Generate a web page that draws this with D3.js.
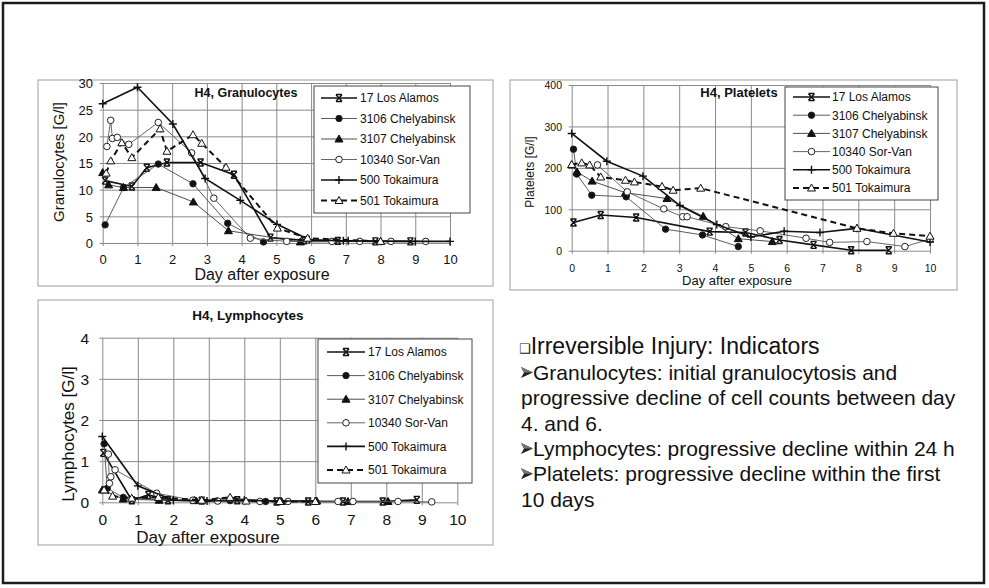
<!DOCTYPE html>
<html>
<head>
<meta charset="utf-8">
<script src="https://cdn.jsdelivr.net/npm/d3@7"></script>
<style>
  body { margin: 0; background: #fff; }
  svg { display: block; font-family: "Liberation Sans", Arial, sans-serif; }
</style>
</head>
<body>
<div id="chart"></div>
<script>
// tick values
const xTicks = d3.range(0, 11)
const granTicks = [0, 5, 10, 15, 20, 25, 30]
const pltTicks = [0, 100, 200, 300, 400]
const lymTicks = [0, 1, 2, 3, 4]

const seriesNames = ["17 Los Alamos", "3106 Chelyabinsk", "3107 Chelyabinsk", "10340 Sor-Van", "500 Tokaimura", "501 Tokaimura"]

// granulocytes [day, G/l]
const gLosAlamos = [[0.07, 11.7], [0.84, 10.6], [1.27, 14.1], [1.85, 15.1], [2.82, 15.1], [3.78, 12.8], [4.83, 1.0], [5.8, 0.5], [6.77, 0.4], [7.85, 0.3], [8.86, 0.3]]
const gChely3106 = [[0.07, 3.4], [0.6, 10.4], [1.6, 14.8], [2.6, 11.1], [3.6, 3.7], [4.63, 0.2]]
const gChely3107 = [[0, 13.2], [0.17, 10.9], [0.6, 10.4], [1.54, 10.4], [2.61, 7.7], [3.62, 2.3], [5.69, 0.2], [8.0, 0.3]]
const gSorVan = [[0.12, 18.1], [0.23, 23.0], [0.28, 19.6], [0.42, 19.8], [0.75, 18.5], [1.6, 22.6], [2.56, 16.9], [3.2, 8.4], [4.25, 0.9], [5.3, 0.3], [6.6, 0.3], [7.4, 0.3], [8.3, 0.3], [9.3, 0.3]]
const gToka500 = [[0, 26.1], [1.0, 29.2], [2.02, 22.3], [2.95, 12.1], [3.96, 8.0], [5.02, 3.5], [5.95, 0.6], [6.93, 0.4], [7.07, 0.4], [9.0, 0.3], [10.0, 0.3]]
const gToka501 = [[0.1, 13.1], [0.23, 15.4], [0.55, 18.8], [0.84, 16.0], [1.65, 21.4], [1.85, 17.2], [2.6, 20.3], [2.85, 18.7], [3.55, 14.2], [5.03, 2.8], [5.9, 0.9], [8.0, 0.3]]

// platelets [day, G/l]
const pLosAlamos = [[0.05, 68], [0.81, 86], [1.8, 80], [3.85, 46], [4.85, 44], [5.8, 26], [6.75, 14], [7.8, 1], [8.85, 1]]
const pChely3106 = [[0.05, 245], [0.14, 185], [0.56, 134], [1.52, 130], [2.62, 52], [3.65, 38], [4.65, 10]]
const pChely3107 = [[0, 207], [0.15, 190], [0.57, 168], [1.5, 140], [2.66, 126], [3.67, 83], [4.65, 29], [5.6, 22]]
const pSorVan = [[0.72, 207], [1.55, 142], [2.57, 101], [3.1, 82], [3.22, 82], [4.3, 58], [5.26, 48], [6.54, 30], [7.2, 20], [8.24, 22], [9.3, 10], [10.0, 28]]
const pToka500 = [[0, 283], [0.98, 216], [1.99, 180], [3.02, 109], [4.05, 63], [5.0, 33], [5.93, 47], [6.93, 44], [7.96, 54], [10.0, 21]]
const pToka501 = [[0, 208], [0.28, 212], [0.5, 207], [0.81, 178], [1.5, 170], [1.75, 166], [2.52, 155], [2.83, 146], [3.6, 151], [7.96, 54], [8.98, 42], [10.0, 35]]

// lymphocytes [day, G/l]
const lLosAlamos = [[0.03, 1.2], [0.83, 0.05], [1.3, 0.18], [1.85, 0.05], [2.8, 0.04], [3.8, 0.05], [4.91, 0.02], [5.8, 0.02], [6.78, 0.02], [7.9, 0.02], [8.86, 0.06]]
const lChely3106 = [[0.05, 1.42], [0.14, 0.34], [0.59, 0.12], [1.6, 0.06], [2.6, 0.05], [3.6, 0.04], [4.6, 0.02]]
const lChely3107 = [[0, 0.3], [0.59, 0.08], [1.6, 0.05], [2.6, 0.04], [3.6, 0.1], [5.05, 0.02], [6.04, 0.03], [6.92, 0.02], [8.05, 0.02]]
const lSorVan = [[0.17, 1.17], [0.2, 0.46], [0.24, 0.62], [0.36, 0.79], [1.53, 0.22], [2.55, 0.05], [3.25, 0.03], [4.44, 0.02], [5.23, 0.02], [6.64, 0.02], [7.06, 0.02], [8.33, 0.02], [9.28, 0.01]]
const lToka500 = [[0, 1.6], [1.0, 0.4], [2.0, 0.05], [2.95, 0.03], [4.0, 0.05], [5.0, 0.03], [6.0, 0.03]]
const lToka501 = [[0.05, 0.3], [0.29, 0.15], [0.83, 0.1], [1.58, 0.12], [2.8, 0.05], [3.6, 0.12], [4.05, 0.03], [5.0, 0.02], [6.0, 0.02]]

const noteLines = [
    "Granulocytes: initial granulocytosis and",
    "progressive decline of cell counts between day",
    "4. and 6.",
    "Lymphocytes: progressive decline within 24 h",
    "Platelets: progressive decline within the first",
    "10 days"
]
const noteBullets = [true, false, false, true, true, false]

// line / marker look for each series, same order as seriesNames
const seriesStyle = [
    {marker: 'star', color: '#111', width: 1.6, dash: null},
    {marker: 'dot', color: '#4a4a4a', width: 0.9, dash: null},
    {marker: 'tri', color: '#3a3a3a', width: 0.9, dash: null},
    {marker: 'ring', color: '#555', width: 0.9, dash: null},
    {marker: 'plus', color: '#111', width: 1.6, dash: null},
    {marker: 'otri', color: '#111', width: 2, dash: '6,4'}
]

const svg = d3.select('#chart').append('svg')
    .attr('width', 989)
    .attr('height', 588)

//outer frame
svg.append('rect')
    .attr('x', 3).attr('y', 3)
    .attr('width', 981).attr('height', 580)
    .attr('fill', 'none')
    .attr('stroke', '#1c1c1c')
    .attr('stroke-width', 2.5)

function drawMarker(sel, type) {
    if (type === 'dot' || type === 'ring') {
        sel.append('circle')
            .attr('r', type === 'dot' ? 3.2 : 3.3)
            .attr('fill', type === 'dot' ? '#111' : '#fff')
            .attr('stroke', '#222')
            .attr('stroke-width', 1)
        return
    }
    const paths = {
        star: 'M-3,-3.3L3,3.3M3,-3.3L-3,3.3M-3,-3.5L3,-3.5M-3,3.5L3,3.5',
        tri: 'M0,-4L4,3L-4,3Z',
        otri: 'M0,-4L4,3L-4,3Z',
        plus: 'M-4,0L4,0M0,-4L0,4'
    }
    sel.append('path')
        .attr('d', paths[type])
        .attr('fill', type === 'tri' ? '#111' : (type === 'otri' ? '#fff' : 'none'))
        .attr('stroke', '#111')
        .attr('stroke-width', type === 'star' || type === 'plus' ? 1.4 : 1)
}

function drawChart(cfg) {
    const g = svg.append('g')

    //panel box
    g.append('rect')
        .attr('x', cfg.box[0]).attr('y', cfg.box[1])
        .attr('width', cfg.box[2] - cfg.box[0]).attr('height', cfg.box[3] - cfg.box[1])
        .attr('fill', 'none')
        .attr('stroke', '#b4b4b4')
        .attr('stroke-width', 1.3)

    const x = d3.scaleLinear().domain([0, 10]).range([cfg.plot[0], cfg.plot[1]])
    const y = d3.scaleLinear().domain([0, d3.max(cfg.yTicks)]).range([cfg.plot[2], cfg.plot[3]])
    const w = x.range()[1] - x.range()[0]
    const h = y.range()[0] - y.range()[1]

    //vertical grid + x labels
    g.append('g')
        .attr('transform', `translate(0,${y(0)})`)
        .call(d3.axisBottom(x).tickValues(xTicks).tickFormat(d3.format('d')).tickSize(-h).tickSizeOuter(0))
        .call(a => a.select('.domain').remove())
        .call(a => a.selectAll('.tick line').attr('y1', 3).attr('stroke', '#8a8a8a'))
        .call(a => a.selectAll('.tick text')
            .attr('y', cfg.xTickBase - y(0)).attr('dy', null)
            .attr('font-size', cfg.tickFont).attr('fill', '#111')
            .attr('font-family', '"Liberation Sans", Arial, sans-serif'))

    //horizontal grid + y labels
    g.append('g')
        .attr('transform', `translate(${x(0)},0)`)
        .call(d3.axisLeft(y).tickValues(cfg.yTicks).tickFormat(d3.format('d')).tickSize(-w).tickSizeOuter(0))
        .call(a => a.select('.domain').remove())
        .call(a => a.selectAll('.tick line').attr('x1', -3).attr('stroke', '#8a8a8a'))
        .call(a => a.selectAll('.tick text')
            .attr('x', cfg.yTickRight - x(0)).attr('dy', '0.36em')
            .attr('font-size', cfg.tickFont).attr('fill', '#111')
            .attr('font-family', '"Liberation Sans", Arial, sans-serif'))

    //title
    g.append('text')
        .attr('x', cfg.title[1]).attr('y', cfg.title[2])
        .attr('text-anchor', 'middle')
        .style('font', `bold ${cfg.title[3]}px "Liberation Sans", Arial, sans-serif`)
        .attr('fill', '#111')
        .text(cfg.title[0])

    //axis titles
    g.append('text')
        .attr('x', cfg.xLabel[0]).attr('y', cfg.xLabel[1])
        .attr('text-anchor', 'middle')
        .attr('font-size', cfg.xLabel[2])
        .attr('fill', '#111')
        .text('Day after exposure')

    g.append('text')
        .attr('transform', `translate(${cfg.yLabel[1]},${cfg.yLabel[2]}) rotate(-90)`)
        .attr('text-anchor', 'middle')
        .attr('font-size', cfg.yLabel[3])
        .attr('fill', '#111')
        .text(cfg.yLabel[0])

    //series
    const line = d3.line().x(d => x(d[0])).y(d => y(d[1]))
    cfg.data.forEach((values, i) => {
        const st = seriesStyle[i]
        g.append('path')
            .attr('d', line(values))
            .attr('fill', 'none')
            .attr('stroke', st.color)
            .attr('stroke-width', st.width)
            .attr('stroke-dasharray', st.dash)
        g.append('g').selectAll('g')
            .data(values)
            .join('g')
            .attr('transform', d => `translate(${x(d[0])},${y(d[1])})`)
            .each(function () { drawMarker(d3.select(this), st.marker) })
    })

    //legend
    const lg = cfg.legend
    g.append('rect')
        .attr('x', lg.x).attr('y', lg.y)
        .attr('width', lg.w).attr('height', lg.h)
        .attr('fill', '#fff')
        .attr('stroke', '#444')
        .attr('stroke-width', 1)
    const items = g.append('g').selectAll('g')
        .data(seriesNames)
        .join('g')
        .attr('transform', (_, i) => `translate(0,${lg.first + i * lg.step})`)
    items.append('line')
        .attr('x1', lg.line[0]).attr('x2', lg.line[1])
        .attr('stroke', (_, i) => seriesStyle[i].color)
        .attr('stroke-width', (_, i) => seriesStyle[i].width)
        .attr('stroke-dasharray', (_, i) => seriesStyle[i].dash)
    items.append('g')
        .attr('transform', `translate(${(lg.line[0] + lg.line[1]) / 2},0)`)
        .each(function (_, i) { drawMarker(d3.select(this), seriesStyle[i].marker) })
    items.append('text')
        .attr('x', lg.text)
        .attr('dy', '0.36em')
        .attr('font-size', 12)
        .attr('fill', '#111')
        .text(d => d)
}

drawChart({
    data: [gLosAlamos, gChely3106, gChely3107, gSorVan, gToka500, gToka501],
    yTicks: granTicks,
    box: [38, 80, 493, 286],
    plot: [102.7, 450, 243, 83],
    tickFont: 13, xTickBase: 264, yTickRight: 93,
    title: ['H4, Granulocytes', 246, 97, 12.5],
    xLabel: [262, 280, 16],
    yLabel: ['Granulocytes [G/l]', 64, 162, 15],
    legend: {x: 314, y: 86, w: 156, h: 127, first: 98, step: 20.5, line: [321, 357], text: 360}
})

drawChart({
    data: [pLosAlamos, pChely3106, pChely3107, pSorVan, pToka500, pToka501],
    yTicks: pltTicks,
    box: [510, 80, 957, 290],
    plot: [571.7, 930, 250.7, 85],
    tickFont: 10.5, xTickBase: 271.7, yTickRight: 562,
    title: ['H4, Platelets', 739, 97, 13],
    xLabel: [737, 285, 13],
    yLabel: ['Platelets [G/l]', 534, 172, 12],
    legend: {x: 785, y: 87, w: 153, h: 113, first: 97, step: 18.2, line: [793, 830], text: 832}
})

drawChart({
    data: [lLosAlamos, lChely3106, lChely3107, lSorVan, lToka500, lToka501],
    yTicks: lymTicks,
    box: [38, 300, 493, 545],
    plot: [102.3, 457.3, 502.3, 337.7],
    tickFont: 15.5, xTickBase: 525, yTickRight: 89,
    title: ['H4, Lymphocytes', 248, 320, 13.5],
    xLabel: [208, 543, 17],
    yLabel: ['Lymphocytes [G/l]', 74, 434, 17],
    legend: {x: 318, y: 339, w: 154, h: 144, first: 352, step: 23.6, line: [327, 365], text: 368}
})

//indicator notes
svg.append('text')
    .attr('x', 519).attr('y', 354)
    .attr('font-size', 23)
    .attr('fill', '#111')
    .call(t => t.append('tspan').attr('font-size', 13).attr('font-family', '"DejaVu Sans"').attr('dy', -1).text('\u2751'))
    .call(t => t.append('tspan').attr('dy', 1).text('Irreversible Injury: Indicators'))

const notes = svg.append('g').selectAll('g')
    .data(noteLines)
    .join('g')
    .attr('transform', (_, i) => `translate(521,${380 + i * 25.3})`)

//arrowhead bullets
notes.filter((_, i) => noteBullets[i])
    .call(s => s.append('path')
        .attr('d', 'M0,-13L12,-7.5L0,-2L3,-7.5Z')
        .attr('fill', '#222'))
    .call(s => s.append('path')
        .attr('d', 'M0,-13L12,-7.5L3,-7.5Z')
        .attr('fill', '#777'))

notes.append('text')
    .attr('x', (_, i) => noteBullets[i] ? 12 : 0)
    .attr('font-size', 21)
    .attr('fill', '#111')
    .text(d => d)
</script>
</body>
</html>
